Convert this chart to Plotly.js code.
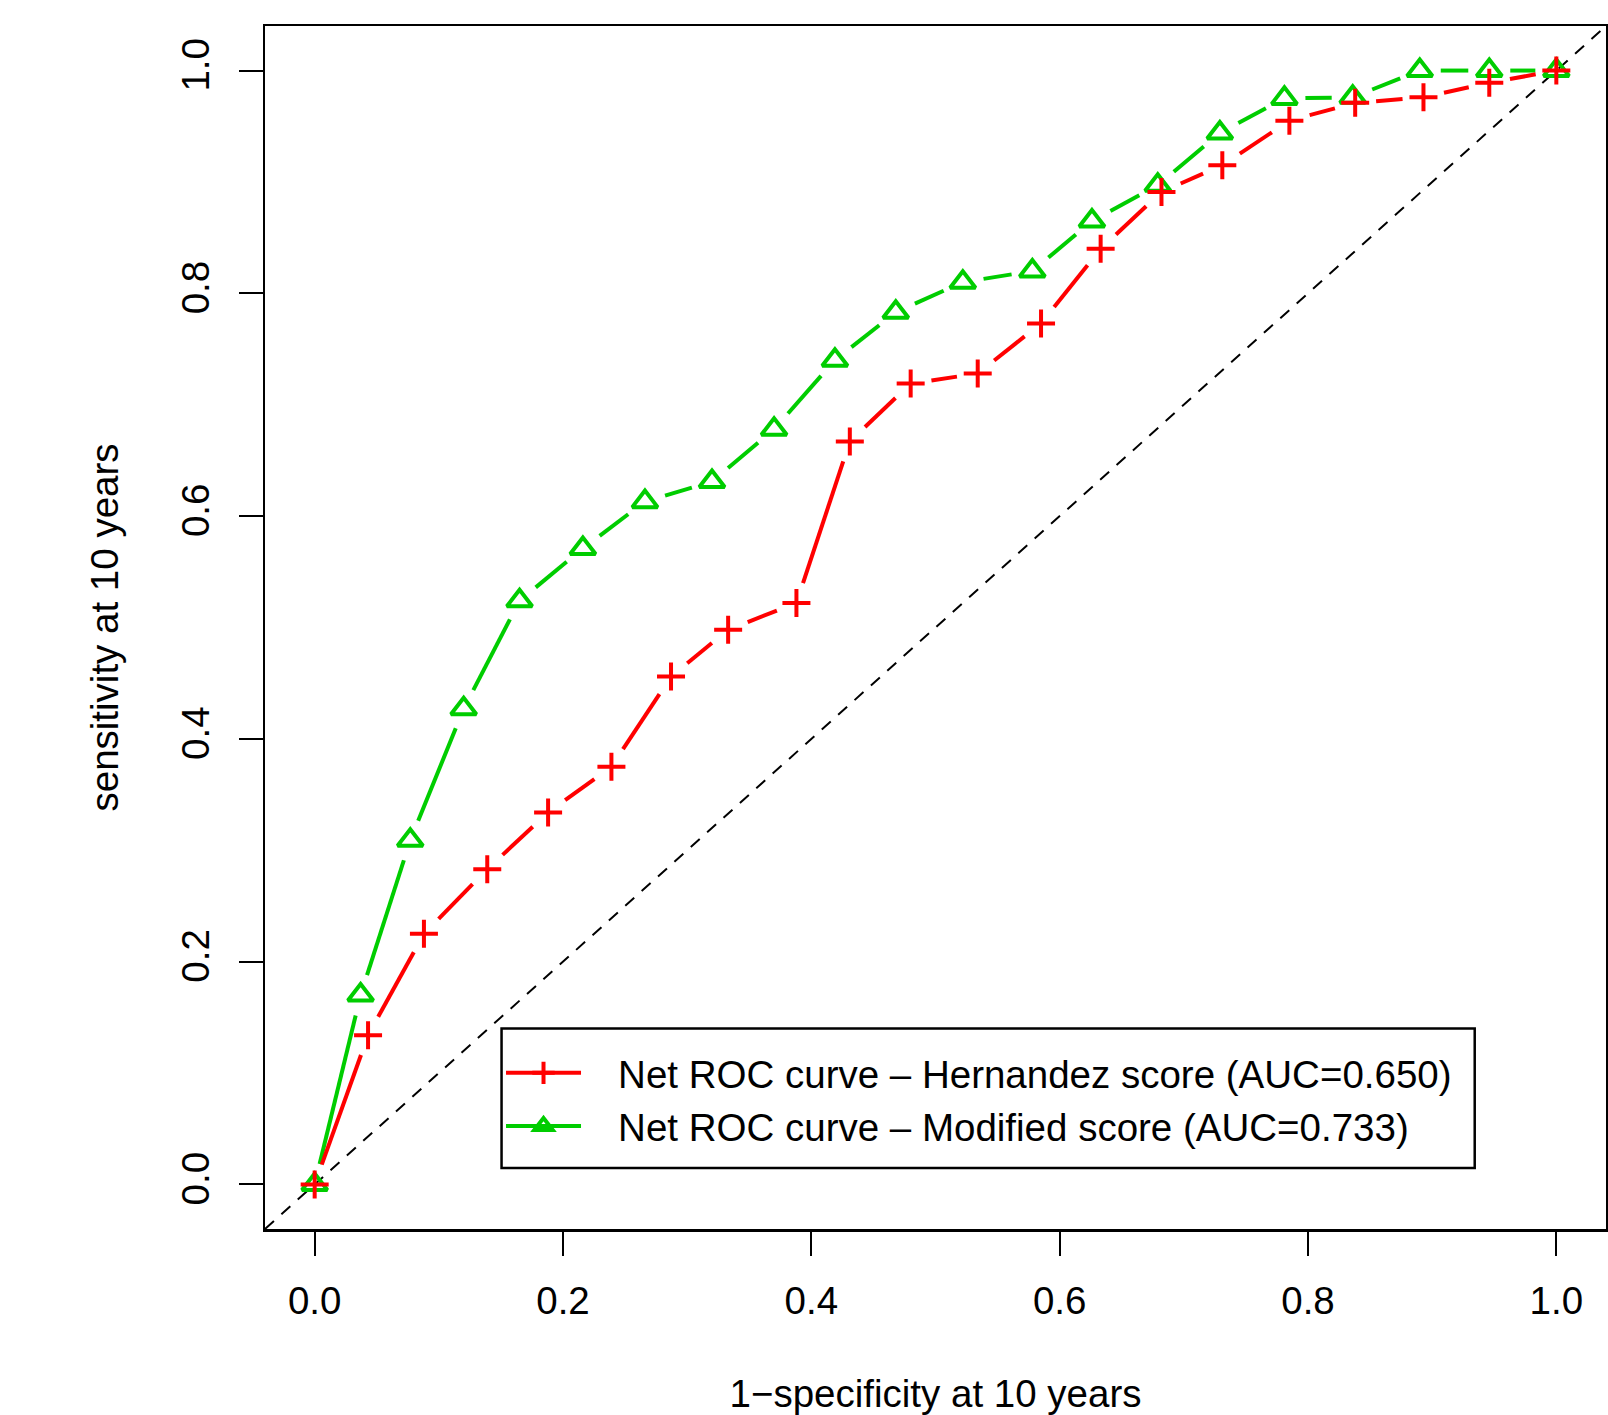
<!DOCTYPE html>
<html><head><meta charset="utf-8">
<script src="https://cdn.plot.ly/plotly-3.0.1.min.js"></script>
<style>html,body{margin:0;padding:0;background:#fff}</style>
</head><body><div id="chart" style="width:1608px;height:1415px"></div>
<script>
// ---- data ----
const hernandezFPR = [0, 0.043, 0.088, 0.139, 0.188, 0.239, 0.287, 0.333, 0.388, 0.431, 0.480, 0.534, 0.585, 0.633, 0.682, 0.731, 0.785, 0.838, 0.893, 0.946, 1.0];
const hernandezTPR = [0, 0.134, 0.225, 0.283, 0.334, 0.375, 0.456, 0.498, 0.522, 0.667, 0.719, 0.728, 0.773, 0.840, 0.891, 0.915, 0.955, 0.971, 0.976, 0.989, 1.0];
const modifiedFPR  = [0, 0.037, 0.077, 0.120, 0.165, 0.216, 0.266, 0.320, 0.370, 0.419, 0.468, 0.522, 0.578, 0.626, 0.679, 0.729, 0.781, 0.836, 0.890, 0.946, 1.0];
const modifiedTPR  = [0, 0.170, 0.309, 0.427, 0.524, 0.571, 0.613, 0.631, 0.678, 0.740, 0.783, 0.810, 0.820, 0.865, 0.897, 0.944, 0.975, 0.976, 1.0, 1.0, 1.0];
const seriesNames = ["Net ROC curve \u2013 Hernandez score (AUC=0.650)", "Net ROC curve \u2013 Modified score (AUC=0.733)"];
const tickVals = [0, 0.2, 0.4, 0.6, 0.8, 1.0];
const tickText = ["0.0", "0.2", "0.4", "0.6", "0.8", "1.0"];
const xTitle = "1\u2212specificity at 10 years";
const yTitle = "sensitivity at 10 years";

// ---- layout constants ----
const W = 1608, H = 1415;
const M = {l: 265, r: 2, t: 26, b: 186};
const RANGE = [-0.04, 1.04];
const kx = (W - M.l - M.r) / (RANGE[1] - RANGE[0]);
const ky = (H - M.t - M.b) / (RANGE[1] - RANGE[0]);
const GAP = 21; // px gap around points (type="b" style)
const RED = "#FF0000", GREEN = "#00CD00";
const FONT = "Liberation Sans, Arial, Helvetica, sans-serif";
const FS = 38.5;

function gapped(xs, ys) {
  const gx = [], gy = [];
  for (let i = 0; i < xs.length - 1; i++) {
    const dx = (xs[i+1] - xs[i]) * kx, dy = (ys[i+1] - ys[i]) * ky;
    const L = Math.hypot(dx, dy);
    if (L <= 2 * GAP) continue;
    const f = GAP / L;
    const ox = (xs[i+1] - xs[i]) * f, oy = (ys[i+1] - ys[i]) * f;
    gx.push(xs[i] + ox, xs[i+1] - ox, null);
    gy.push(ys[i] + oy, ys[i+1] - oy, null);
  }
  return {x: gx, y: gy};
}

const gS = gapped(modifiedFPR, modifiedTPR);
const rS = gapped(hernandezFPR, hernandezTPR);
const redMarker = {symbol: "cross-thin-open", size: 20, color: RED, line: {color: RED, width: 4}};
const greenMarker = {symbol: "triangle-up-open", size: 22, color: GREEN, line: {color: GREEN, width: 4}};
const pad = "\u00A0\u00A0\u00A0";

const traces = [
  {x: gS.x, y: gS.y, mode: "lines", line: {color: GREEN, width: 4}, showlegend: false, hoverinfo: "skip"},
  {x: modifiedFPR, y: modifiedTPR, mode: "markers", marker: greenMarker, showlegend: false, name: seriesNames[1]},
  {x: rS.x, y: rS.y, mode: "lines", line: {color: RED, width: 4}, showlegend: false, hoverinfo: "skip"},
  {x: hernandezFPR, y: hernandezTPR, mode: "markers", marker: redMarker, showlegend: false, name: seriesNames[0]},
  // legend entries
  {x: [null], y: [null], mode: "lines+markers", name: pad + seriesNames[0], line: {color: RED, width: 4}, marker: redMarker, showlegend: true},
  {x: [null], y: [null], mode: "lines+markers", name: pad + seriesNames[1], line: {color: GREEN, width: 4}, marker: greenMarker, showlegend: true}
];

const axisCommon = {
  range: RANGE, autorange: false, tickmode: "array", tickvals: tickVals, ticktext: tickText,
  ticks: "outside", ticklen: 24, tickwidth: 2, tickcolor: "#000",
  showline: true, linecolor: "#000", linewidth: 2.5, mirror: true,
  showgrid: false, zeroline: false,
  tickfont: {family: FONT, size: FS, color: "#000"}
};

const layout = {
  width: W, height: H, margin: M,
  paper_bgcolor: "#fff", plot_bgcolor: "#fff",
  font: {family: FONT, size: FS, color: "#000"},
  xaxis: Object.assign({}, axisCommon, {ticklabelstandoff: 12,
    title: {text: xTitle, font: {family: FONT, size: FS, color: "#000"}, standoff: 73}}),
  yaxis: Object.assign({}, axisCommon, {ticklabelstandoff: 14, tickangle: -90,
    title: {text: yTitle, font: {family: FONT, size: FS, color: "#000"}, standoff: 44}}),
  shapes: [
    {type: "line", xref: "paper", yref: "paper", x0: 0, y0: 0, x1: 1, y1: 1, layer: "below",
     line: {color: "#000", width: 2, dash: "12px,10px"}},
    {type: "rect", xref: "paper", yref: "paper", x0: 0.1764, x1: 0.9021, y0: 0.0507, y1: 0.1666, layer: "above",
     fillcolor: "#fff", line: {color: "#000", width: 2.5}}
  ],
  legend: {x: 0.176, y: 0.156, xanchor: "left", yanchor: "top", bgcolor: "rgba(0,0,0,0)",
           borderwidth: 0, itemwidth: 75,
           font: {family: FONT, size: FS, color: "#000"}},
  showlegend: true
};

Plotly.newPlot("chart", traces, layout, {staticPlot: true});
</script>
</body></html>
